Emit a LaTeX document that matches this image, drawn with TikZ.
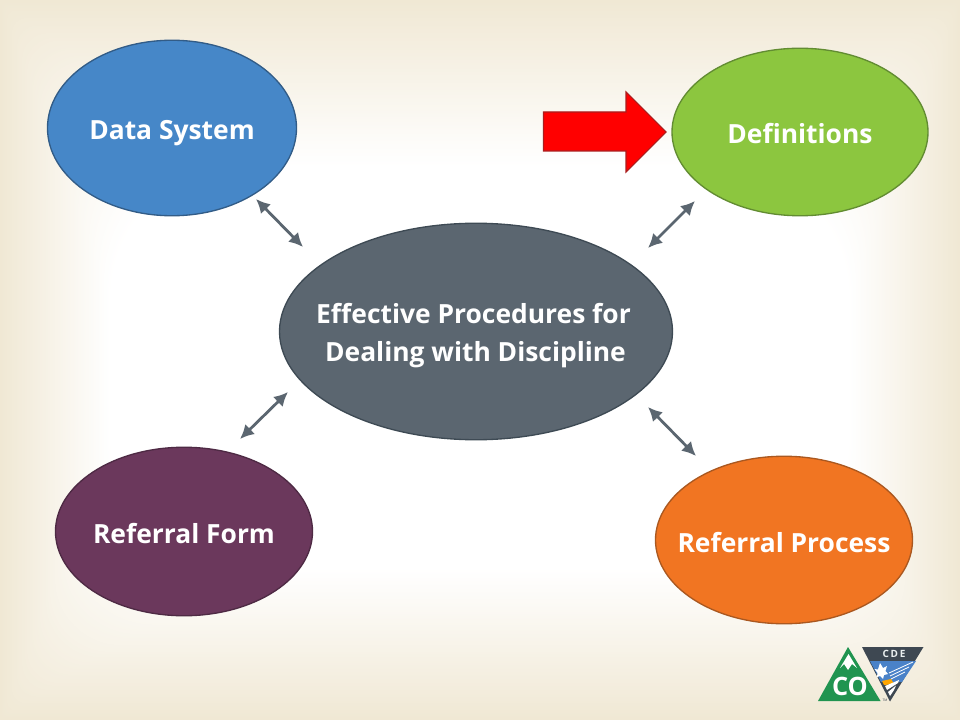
\documentclass[tikz,border=0pt]{standalone}
\usepackage{fontspec}
\setmainfont{Open Sans}
\usetikzlibrary{arrows.meta,shapes.geometric}
\definecolor{bgedge}{RGB}{240,232,212}
\definecolor{slatec}{RGB}{91,102,112}
\tikzset{
  blob/.style={ellipse,draw,line width=1pt,inner sep=0pt},
  lbl/.style={text=white,font=\bfseries\fontsize{19.8}{28.5}\selectfont,align=center,inner sep=0pt},
  dbl/.style={draw=slatec,line width=2.1pt,{Latex[length=10.5pt,width=10.5pt]}-{Latex[length=10.5pt,width=10.5pt]}},
}
\begin{document}
\begin{tikzpicture}[x=0.75pt,y=-0.75pt]
\useasboundingbox (0,0) rectangle (960,720);
\fill[bgedge] (0,0) rectangle (960,720);
\foreach \i in {1,...,110}{
  \pgfmathsetmacro{\pct}{100*(\i/110)}
  \pgfmathsetmacro{\insx}{\i*1.0}
  \pgfmathsetmacro{\inst}{\i*1.5}
  \pgfmathsetmacro{\insb}{\i*1.36}
  \pgfmathsetmacro{\rad}{\i*0.9}
  \fill[white!\pct!bgedge,rounded corners=\rad pt] (\insx,\inst) rectangle (960-\insx,720-\insb);
}
% ellipses
\node[blob,fill={rgb,255:red,70;green,135;blue,200},draw={rgb,255:red,50;green,92;blue,135},minimum width=249*0.75pt,minimum height=175.5*0.75pt] (data) at (172,128) {};
\node[lbl] (datat) at (172,133) {Data System};
\node[blob,fill={rgb,255:red,140;green,198;blue,63},draw={rgb,255:red,98;green,140;blue,50},minimum width=256*0.75pt,minimum height=167.5*0.75pt] (defs) at (800,132) {};
\node[lbl] (defst) at (800,133.5) {Definitions};
\node[blob,fill=slatec,draw={rgb,255:red,62;green,74;blue,84},minimum width=393*0.75pt,minimum height=216.5*0.75pt] (center) at (476,331.5) {};
\node[lbl] (centert) at (475.5,336) {Effective Procedures for\kern3pt\\ Dealing with Discipline};
\node[blob,fill={rgb,255:red,107;green,56;blue,92},draw={rgb,255:red,78;green,42;blue,68},minimum width=257*0.75pt,minimum height=168.5*0.75pt] (form) at (184,531.5) {};
\node[lbl] (formt) at (184,533.2) {Referral Form};
\node[blob,fill={rgb,255:red,241;green,117;blue,34},draw={rgb,255:red,170;green,88;blue,32},minimum width=257*0.75pt,minimum height=167.5*0.75pt] (proc) at (784,540) {};
\node[lbl] (proct) at (784,542.2) {Referral Process};
% arrows
\coordinate (a1) at (256,199); \coordinate (a2) at (303,247);
\coordinate (b1) at (695,201); \coordinate (b2) at (648,248);
\coordinate (c1) at (288,392); \coordinate (c2) at (240,439);
\coordinate (d1) at (648,407); \coordinate (d2) at (696,456);
\draw[dbl] (a1) -- (a2);
\draw[dbl] (b1) -- (b2);
\draw[dbl] (c1) -- (c2);
\draw[dbl] (d1) -- (d2);
% red arrow
\draw[fill=red,draw={rgb,255:red,170;green,30;blue,30},line width=0.8pt,line join=miter]
  (543.5,112) -- (626,112) -- (626,92) -- (666,132) -- (626,172) -- (626,151) -- (543.5,151) -- cycle;
% logo CO
\definecolor{cogreen}{RGB}{32,148,80}
\definecolor{cdedark}{RGB}{62,72,82}
\definecolor{cdeblue}{RGB}{74,130,200}
\fill[cogreen] (848,647) -- (880.5,701) -- (818,701) -- cycle;
\fill[white] (848.5,654) -- (857,668) -- (852,664) -- (848,670) -- (844,664) -- (840,668) -- cycle;
\node[text=white,font=\bfseries\fontsize{19}{20}\selectfont,inner sep=0pt] (co) at (850,686.5) {CO};
% logo CDE
\fill[cdedark] (862,647) -- (923.5,647) -- (890,701.5) -- cycle;
\fill[cdeblue] (870,661) -- (916,661) -- (902,682) -- (881,682) -- cycle;
\fill[white] (880,663) -- (883,668) -- (887,666) -- (885.5,671) -- (888,674) -- (884,675) -- (883,679) -- (880,676) -- (877,677) -- (877.5,673) -- (874.5,669) -- (878,669.5) -- cycle;
\draw[white,line width=0.6pt] (889,673) -- (913,662) (890,676) -- (909,667) (891,679) -- (905,672);
\fill[orange!70!yellow] (882,681) -- (891,679) -- (894,684) -- (884,685) -- cycle;
\fill[white] (885,686) -- (899,680) -- (898,683) -- (887,690) -- cycle;
\fill[white] (888,692) -- (896,685.5) -- (894,690) -- (890,696) -- cycle;
\node[text={rgb,255:red,235;green,240;blue,240},font=\bfseries\fontsize{7.5}{8}\selectfont,inner sep=0pt] (cde) at (894,653.5) {C\,D\,E};
\node[text=cdedark,font=\fontsize{2.5}{3}\selectfont,inner sep=0pt] (tm) at (885,700.5) {TM};
\end{tikzpicture}
\end{document}
